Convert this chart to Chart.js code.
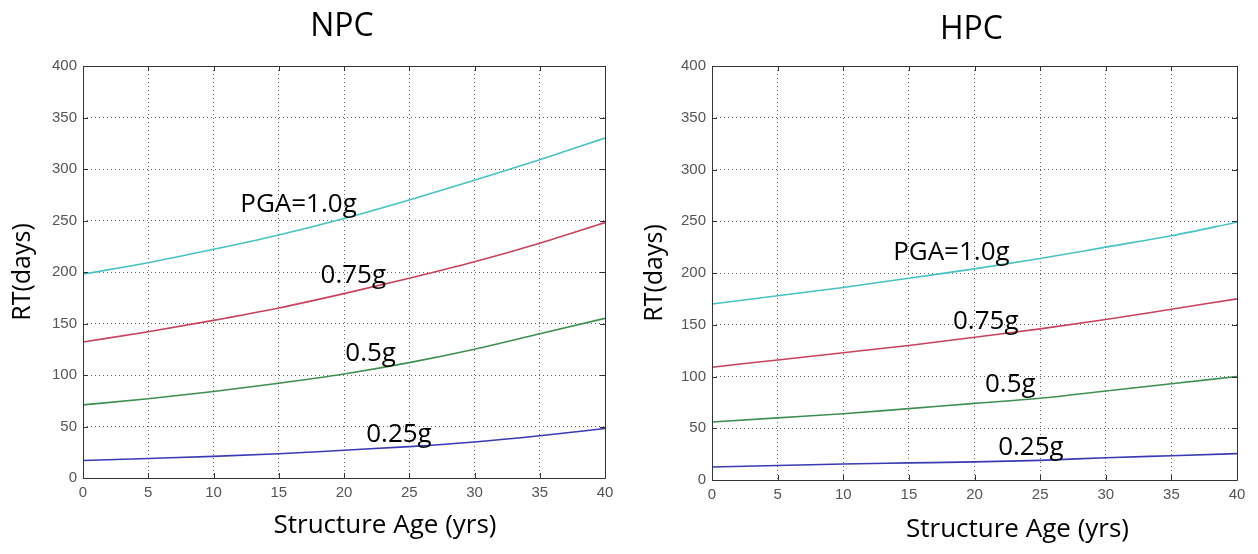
<!DOCTYPE html>
<html>
<head>
<meta charset="utf-8">
<script src="https://cdn.jsdelivr.net/npm/chart.js@4.4.1/dist/chart.umd.min.js"></script>
<style>
  html, body { margin: 0; padding: 0; background: #fff; }
  #wrap { position: relative; width: 1258px; height: 554px; overflow: hidden; }
  .box { position: absolute; top: 0; height: 554px; }
</style>
</head>
<body>
<div id="wrap">
  <div class="box" style="left:0;width:625px;"><canvas id="c1"></canvas></div>
  <div class="box" style="left:630px;width:628px;"><canvas id="c2"></canvas></div>
</div>
<script>
// ---- data ----
const ages = [0, 5, 10, 15, 20, 25, 30, 35, 40];
const seriesNames = ['PGA=1.0g', '0.75g', '0.5g', '0.25g'];
const npc10  = [198, 209, 222, 236, 252, 270, 289, 309, 330];
const npc075 = [132, 142, 153, 165, 179, 194, 210, 228, 248];
const npc05  = [71, 77, 84, 92, 101, 112, 125, 140, 155];
const npc025 = [17, 19, 21, 23.5, 27, 30.5, 35, 41, 48];
const hpc10  = [170, 178, 186, 195, 204, 214, 225, 236, 249];
const hpc075 = [109, 116, 123, 130, 138, 146, 155, 165, 175];
const hpc05  = [56, 60, 64, 69, 74, 79, 86, 93, 100];
const hpc025 = [12.5, 14, 15.5, 16.5, 17.5, 19, 21.5, 23.5, 25.5];
const xTicks = [0, 5, 10, 15, 20, 25, 30, 35, 40];
const yTicks = [0, 50, 100, 150, 200, 250, 300, 350, 400];
// in-plot curve labels: left x (age) and baseline y (days)
const npcLabelX = [12.05, 18.2, 20.1, 21.7];
const npcLabelY = [258.5, 189, 113.6, 34.7];
const hpcLabelX = [13.8, 18.36, 20.8, 21.8];
const hpcLabelY = [212.4, 145.5, 85.2, 24.1];

const colors = ['#48c2c2', '#c8425e', '#3f8f52', '#3a3ab4'];

function toXY(vals) { return ages.map((a, i) => ({ x: a, y: vals[i] })); }

const frameTicks = {
  id: 'frameTicks',
  afterDatasetsDraw(chart, args, opts) {
    const { ctx, chartArea: a, scales } = chart;
    ctx.save();
    ctx.strokeStyle = '#333';
    ctx.lineWidth = 1;
    ctx.beginPath();
    ctx.rect(Math.round(a.left) + 0.5, Math.round(a.top) + 0.5, Math.round(a.right - a.left), Math.round(a.bottom - a.top));
    ctx.stroke();
    const L = 5;
    ctx.beginPath();
    xTicks.forEach(v => {
      const px = Math.round(scales.x.getPixelForValue(v)) + 0.5;
      ctx.moveTo(px, a.bottom); ctx.lineTo(px, a.bottom - L);
      ctx.moveTo(px, a.top); ctx.lineTo(px, a.top + L);
    });
    yTicks.forEach(v => {
      const py = Math.round(scales.y.getPixelForValue(v)) + 0.5;
      ctx.moveTo(a.left, py); ctx.lineTo(a.left + L, py);
      ctx.moveTo(a.right, py); ctx.lineTo(a.right - L, py);
    });
    ctx.stroke();
    ctx.fillStyle = '#000';
    // curve labels
    ctx.font = '26px "Open Sans"';
    ctx.textAlign = 'left';
    ctx.textBaseline = 'alphabetic';
    opts.names.forEach((t, i) => {
      ctx.fillText(t, scales.x.getPixelForValue(opts.lx[i]), scales.y.getPixelForValue(opts.ly[i]));
    });
    // chart title, centred over plot area
    ctx.textAlign = 'center';
    ctx.font = '32px "Open Sans"';
    ctx.fillText(opts.title, (a.left + a.right) / 2 + opts.titleDx, opts.titleBase);
    // x axis title
    ctx.font = '26px "Open Sans"';
    ctx.fillText(opts.xTitle, (a.left + a.right) / 2 + opts.xTitleDx, opts.xTitleBase);
    ctx.restore();
  }
};

function makeChart(id, title, data, lx, ly, cfg) {
  return new Chart(document.getElementById(id), {
    type: 'line',
    data: {
      datasets: data.map((d, i) => ({
        label: seriesNames[i],
        data: toXY(d),
        borderColor: colors[i],
        borderWidth: 1.6,
        pointRadius: 0,
        fill: false,
        cubicInterpolationMode: 'monotone'
      }))
    },
    options: {
      responsive: true,
      maintainAspectRatio: false,
      animation: false,
      events: [],
      layout: { padding: { left: 0, right: cfg.padRight, top: cfg.padTop, bottom: 0 } },
      plugins: {
        legend: { display: false },
        tooltip: { enabled: false },
        title: { display: false },
        frameTicks: {
          names: seriesNames, lx: lx, ly: ly,
          title: title, titleDx: cfg.titleDx, titleBase: cfg.titleBase,
          xTitle: 'Structure Age (yrs)', xTitleDx: cfg.xTitleDx, xTitleBase: cfg.xTitleBase
        }
      },
      scales: {
        x: {
          type: 'linear', min: 0, max: 40,
          afterBuildTicks: s => { s.ticks = xTicks.map(v => ({ value: v })); },
          afterFit: s => { s.height = cfg.xHeight; },
          ticks: { color: '#555', font: { family: 'Liberation Sans', size: 15 }, padding: 6, maxRotation: 0 },
          grid: { color: '#666', lineWidth: 1, drawTicks: false },
          border: { display: false, dash: [1, 3] },
          title: { display: false }
        },
        y: {
          type: 'linear', min: 0, max: 400,
          afterBuildTicks: s => { s.ticks = yTicks.map(v => ({ value: v })); },
          afterFit: s => { s.width = cfg.yWidth; },
          ticks: { color: '#555', font: { family: 'Liberation Sans', size: 15 }, padding: 6 },
          grid: { color: '#666', lineWidth: 1, drawTicks: false },
          border: { display: false, dash: [1, 3] },
          title: {
            display: true, text: 'RT(days)', color: '#000',
            font: { family: 'Open Sans', size: 25 },
            padding: { top: cfg.yTitlePad, bottom: 0 }
          }
        }
      }
    },
    plugins: [frameTicks]
  });
}

makeChart('c1', 'NPC', [npc10, npc075, npc05, npc025], npcLabelX, npcLabelY,
  { padRight: 20, padTop: 66, xHeight: 76, yWidth: 83, yTitlePad: 8,
    titleDx: -2, titleBase: 36, xTitleDx: 41, xTitleBase: 533 });
makeChart('c2', 'HPC', [hpc10, hpc075, hpc05, hpc025], hpcLabelX, hpcLabelY,
  { padRight: 21, padTop: 66, xHeight: 74, yWidth: 82, yTitlePad: 10,
    titleDx: -3, titleBase: 39, xTitleDx: 43, xTitleBase: 537 });
</script>
</body>
</html>
